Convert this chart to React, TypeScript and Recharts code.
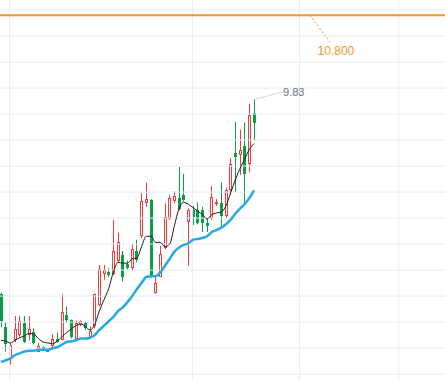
import React from 'react'
import { ComposedChart, Bar, Line, XAxis, YAxis, ReferenceLine, ReferenceDot } from 'recharts'

// daily candles (index = trading day)
const opens = [7.59, 7.20, 6.85, 7.05, 7.11, 7.25, 7.11, 7.15, 6.92, 6.97, 6.92, 6.98, 7.07, 7.05, 7.34, 7.28, 7.07, 7.23, 7.25, 7.09, 7.21, 7.46, 7.82, 7.84, 7.82, 7.96, 8.04, 7.93, 7.89, 8.08, 8.25, 8.64, 8.67, 7.60, 7.78, 8.11, 8.45, 8.66, 8.69, 8.73, 8.41, 8.55, 8.55, 8.55, 8.40, 8.46, 8.62, 8.64, 8.48, 8.78, 9.21, 9.19, 9.29, 9.09, 9.67]
const highs = [7.60, 7.26, 7.02, 7.33, 7.33, 7.33, 7.33, 7.19, 7.02, 6.98, 6.95, 7.12, 7.14, 7.58, 7.44, 7.29, 7.28, 7.28, 7.27, 7.21, 7.59, 7.92, 7.92, 7.88, 8.44, 8.29, 8.08, 7.97, 8.16, 8.21, 8.75, 8.87, 8.68, 7.79, 8.14, 8.63, 8.73, 8.77, 9.05, 8.97, 8.57, 8.60, 8.64, 8.59, 8.45, 8.83, 8.68, 8.87, 8.81, 9.15, 9.57, 9.48, 9.56, 9.78, 9.83]
const lows = [7.20, 6.92, 6.77, 7.03, 7.09, 7.02, 7.05, 7.00, 6.92, 6.93, 6.92, 6.94, 7.02, 7.05, 7.25, 7.07, 7.07, 7.21, 7.17, 7.09, 7.19, 7.44, 7.75, 7.78, 7.80, 7.94, 7.73, 7.87, 7.85, 7.95, 8.23, 8.59, 7.77, 7.59, 7.78, 8.10, 8.44, 8.63, 8.55, 8.65, 7.91, 8.38, 8.39, 8.30, 8.30, 8.44, 8.60, 8.37, 8.46, 8.73, 8.76, 8.96, 8.61, 8.99, 9.36]
const closes = [7.27, 7.01, 7.00, 7.18, 7.27, 7.03, 7.18, 7.02, 6.99, 6.94, 6.95, 7.06, 7.03, 7.38, 7.28, 7.09, 7.25, 7.27, 7.19, 7.16, 7.58, 7.87, 7.86, 7.80, 8.08, 8.18, 7.78, 7.89, 8.10, 7.98, 8.66, 8.68, 7.78, 7.71, 8.05, 8.47, 8.69, 8.72, 8.56, 8.67, 8.55, 8.47, 8.40, 8.40, 8.37, 8.70, 8.65, 8.48, 8.78, 9.09, 9.17, 9.25, 8.97, 9.65, 9.56]

// thin black average and thick blue trend line
const maLine = [7.05, 7.04, 7.02, 7.05, 7.08, 7.10, 7.13, 7.12, 7.07, 7.03, 7.02, 7.01, 7.04, 7.09, 7.14, 7.18, 7.22, 7.24, 7.21, 7.17, 7.23, 7.39, 7.52, 7.65, 7.84, 7.95, 7.94, 7.94, 7.99, 8.00, 8.13, 8.25, 8.25, 8.18, 8.18, 8.13, 8.16, 8.37, 8.57, 8.64, 8.62, 8.58, 8.54, 8.50, 8.45, 8.50, 8.52, 8.53, 8.60, 8.75, 8.90, 9.03, 9.14, 9.25, 9.32]
const trendLine = [6.80, 6.82, 6.84, 6.88, 6.90, 6.92, 6.93, 6.93, 6.94, 6.94, 6.94, 6.96, 6.97, 7.00, 7.03, 7.04, 7.05, 7.07, 7.07, 7.08, 7.11, 7.17, 7.22, 7.27, 7.32, 7.39, 7.43, 7.49, 7.56, 7.64, 7.71, 7.78, 7.79, 7.79, 7.83, 7.91, 7.99, 8.07, 8.12, 8.15, 8.17, 8.21, 8.22, 8.23, 8.25, 8.30, 8.32, 8.35, 8.39, 8.44, 8.51, 8.57, 8.62, 8.69, 8.78]

// grid positions (price levels / day indices)
const priceGrid = [10.86, 10.56, 10.26, 9.96, 9.66, 9.36, 9.06, 8.76, 8.46, 8.16, 7.86, 7.56, 7.26, 6.96, 6.66]
const dayGrid = [1.8, 40.9, 63.7, 84.9]

const targetPrice = 10.8
const lastHigh = 9.83

const RED = '#ee3d3d'
const GREEN = '#0a9e47'
const ORANGE = '#f7951f'
const GRID = '#e7ecf2'

const data = opens.map((o, i) => ({
  i,
  open: o,
  high: highs[i],
  low: lows[i],
  close: closes[i],
  ma: maLine[i],
  trend: trendLine[i],
}))

function Candle(props: any) {
  const { x, y, width, height, payload } = props
  const { open, close, high, low } = payload
  const cx = Math.floor(x + width / 2) + 0.5
  const span = high - low || 1
  const toY = (v: number) => y + ((high - v) / span) * height
  const top = Math.round(toY(Math.max(open, close)))
  const bottom = Math.max(Math.round(toY(Math.min(open, close))), top + 1)
  if (close >= open) {
    // rising: hollow red body
    return (
      <g>
        <line x1={cx} x2={cx} y1={y} y2={top} stroke={RED} strokeWidth={1} />
        <line x1={cx} x2={cx} y1={bottom} y2={y + height} stroke={RED} strokeWidth={1} />
        <rect x={cx - 1} y={top + 0.5} width={2} height={Math.max(bottom - top - 1, 0.5)} fill="#fff" stroke={RED} strokeWidth={1} />
      </g>
    )
  }
  return (
    <g>
      <line x1={cx} x2={cx} y1={y} y2={y + height} stroke={GREEN} strokeWidth={1} />
      <rect x={cx - 1.5} y={top} width={3} height={bottom - top} fill={GREEN} />
    </g>
  )
}

export default function App() {
  return (
    <div style={{ position: 'absolute', left: 0, top: 0, width: 445, height: 380, background: '#fff', fontFamily: 'Arial, "Liberation Sans", sans-serif' }}>
      <ComposedChart width={445} height={380} data={data} margin={{ top: 0, right: 0, bottom: 0, left: 0 }}>
        <XAxis dataKey="i" type="number" domain={[-0.213, 94.77]} allowDataOverflow hide />
        <YAxis type="number" domain={[6.592, 10.9765]} allowDataOverflow hide />

        {priceGrid.map((v) => (
          <ReferenceLine key={'h' + v} y={v} stroke={GRID} strokeWidth={1} />
        ))}
        {dayGrid.map((v) => (
          <ReferenceLine key={'v' + v} x={v} stroke={GRID} strokeWidth={1} />
        ))}

        <ReferenceLine y={targetPrice} stroke={ORANGE} strokeWidth={2} />
        <ReferenceLine
          segment={[{ x: 65.95, y: targetPrice }, { x: 70.2, y: 10.49 }]}
          stroke={ORANGE}
          strokeDasharray="2 2"
        />
        <ReferenceDot
          x={70.2}
          y={10.49}
          r={0}
          fill="none"
          stroke="none"
          label={({ viewBox }: any) => (
            <text x={viewBox.x + 6} y={viewBox.y + 13} fill={ORANGE} fontSize={12} textAnchor="middle">
              {targetPrice.toFixed(3)}
            </text>
          )}
        />

        <Bar dataKey={(d: any) => [d.low, d.high]} barCategoryGap={0} shape={<Candle />} isAnimationActive={false} />

        <Line dataKey="trend" type="monotone" stroke="#2aa8e4" strokeWidth={2.5} dot={false} activeDot={false} isAnimationActive={false} />
        <Line dataKey="ma" type="monotone" stroke="#1d1d1d" strokeWidth={1} dot={false} activeDot={false} isAnimationActive={false} />

        <ReferenceLine
          segment={[{ x: 54, y: lastHigh }, { x: 60.2, y: 9.915 }]}
          stroke="#d3d7de"
          strokeWidth={1}
        />
        <ReferenceDot
          x={60.2}
          y={9.915}
          r={0}
          fill="none"
          stroke="none"
          label={({ viewBox }: any) => (
            <text x={viewBox.x} y={viewBox.y + 4} fill="#6b7280" fontSize={11} textAnchor="start">
              {lastHigh.toFixed(2)}
            </text>
          )}
        />
      </ComposedChart>
    </div>
  )
}
